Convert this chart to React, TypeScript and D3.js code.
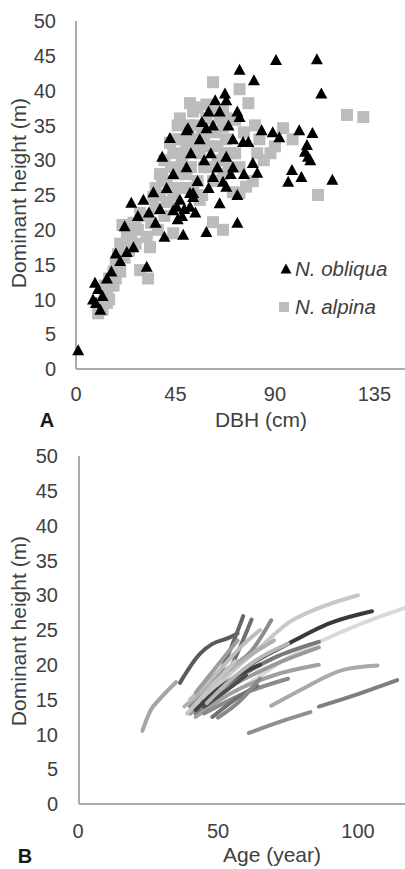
import React from "react";
import * as d3 from "d3";

// ---------- Panel A data ----------
const dbhTicks = [0, 45, 90, 135];
const heightTicks = [0, 5, 10, 15, 20, 25, 30, 35, 40, 45, 50];

const obliquaDbh = [
  1, 7.7, 8.6, 9, 10, 11, 12, 14, 16, 18, 20, 23, 26, 32,
  22, 25, 28, 30.5, 33, 35, 36, 38, 39, 40, 41, 42.5, 44, 44, 45.7, 46, 47, 48, 48.5, 49,
  50, 50, 50.7, 51.6, 51.6, 52, 53, 53, 54, 55, 56, 57, 58, 59, 59, 60, 60, 61, 62, 62,
  63, 64, 65, 65, 66.5, 67.4, 68, 68, 68, 69, 70, 71, 71, 73, 73, 73, 74, 74, 75.6, 76,
  78, 80, 80.5, 82, 84, 89, 90.5, 92, 96, 97.7, 101, 102, 103.6, 104.5, 105, 106, 107,
  109, 111, 116,
];
const obliquaH = [
  2.7, 10, 12.4, 9.5, 11.5, 8.5, 10.5, 13, 14, 16.6, 15.5, 16.8, 17.5, 14.7,
  20.5, 23.9, 22, 24.3, 22.5, 25.4, 21, 23, 30.5, 19, 26, 33.2, 28, 22.8, 23.3, 21.5, 24.3, 22, 19.3, 23,
  29, 34.3, 34.6, 23.3, 25.3, 31, 24.7, 25.3, 22.5, 27, 33, 35.5, 30, 34.6, 19.7, 26, 37, 31, 27.6, 35,
  38.6, 29, 23.8, 37, 26.9, 39.6, 30.5, 26.2, 38.6, 35, 28, 29, 33, 21, 37, 25, 43, 36.2, 32.6, 28,
  32.6, 29.6, 41.5, 28.2, 34.3, 34, 44.4, 33.3, 26.9, 28.6, 34.3, 27.6, 31.2, 32.2, 30.5, 30, 33.9,
  44.5, 39.6, 27.2,
];

const alpinaDbh = [
  10, 11, 12, 13, 13, 14, 15, 15, 16, 17, 18, 18, 19, 20, 20, 21, 22, 23, 24, 24, 25, 26,
  27, 28, 29, 29, 32.6, 32, 33.5, 34, 35, 36, 37, 38, 39, 40, 41, 42, 42.5, 43, 44, 44, 45,
  46, 47, 47, 48, 49, 50, 50, 51, 51.6, 51.6, 52, 53, 54, 55, 55, 56, 56, 57, 58, 59, 60,
  62, 62, 62, 63, 64, 65, 66.5, 66.5, 66.5, 66.5, 67, 68, 70, 71, 72, 74, 74, 74, 76, 77,
  78, 80, 81, 82, 83, 85, 88, 90, 93.7, 98, 109.5, 122.6, 130,
  38, 40, 41, 43, 45, 46, 47, 49, 52, 54, 55, 58, 59, 61, 63, 64, 68, 69, 72, 44, 53, 57,
  36, 31, 27, 14, 17, 22,
];
const alpinaH = [
  8, 9.5, 8.5, 10, 12, 11, 13, 10, 12, 14, 13, 15, 16.5, 14, 18, 20.7, 17.5, 19, 17, 20.5, 19, 21,
  18, 20, 22.4, 14.2, 13, 19, 17.5, 21, 24.7, 23, 20, 25, 27.6, 22, 27, 24, 32.5, 29, 31, 19.5, 26,
  28, 33, 36, 30, 26, 28, 32, 35, 31.5, 38.2, 29, 37, 33, 37.6, 27, 24.3, 31, 34, 29, 36, 32,
  21.1, 41.2, 27, 34, 30, 36, 34.8, 37.2, 28, 20, 31, 33, 31, 25.4, 35.8, 25.3, 40.2, 29, 34, 26.2,
  38.2, 27, 35, 31, 33, 30, 31, 32, 34.6, 33, 25, 36.5, 36.2,
  28, 30, 24, 26, 33, 35, 29, 31, 33, 35, 32, 33, 38, 29, 37, 32, 36, 29, 31, 25, 26, 25,
  26, 22, 21, 9.5, 12, 16,
];

// ---------- Panel B data ----------
const ageTicks = [0, 50, 100];

const curveColors = [
  "#a6a6a6", "#5a5a5a", "#666666", "#6e6e6e", "#8c8c8c", "#c8c8c8", "#3a3a3a", "#d9d9d9",
  "#a9a9a9", "#7f7f7f", "#8f8f8f", "#787878", "#9a9a9a", "#a0a0a0", "#8a8a8a", "#b0b0b0",
  "#bdbdbd", "#9d9d9d", "#404040", "#4d4d4d", "#707070", "#b5b5b5", "#888888", "#c4c4c4",
];
const curveAges: number[][] = [
  [23, 26, 29, 35],
  [36.4, 43.6, 48, 54, 57],
  [44, 52, 59],
  [46, 55, 62],
  [40, 52, 62, 69],
  [45, 55, 65, 75, 85, 100],
  [50, 60, 75, 90, 105],
  [60, 75, 90, 105, 117],
  [69, 80, 95, 107],
  [86, 100, 114],
  [61, 72, 83],
  [42, 55, 70, 86],
  [40, 55, 70, 86],
  [42, 55, 70, 86],
  [45, 60, 75],
  [38, 50, 60, 70],
  [40, 50, 58, 65],
  [42, 50, 57],
  [42, 50, 58, 65],
  [45, 52, 60],
  [48, 56, 64],
  [46, 55, 65, 75],
  [50, 57, 65],
  [39, 48, 56],
];
const curveHeights: number[][] = [
  [10.5, 13.5, 15, 17.5],
  [17.4, 21.6, 23, 23.9, 24.5],
  [15, 20, 27],
  [14, 20, 26.5],
  [14, 19, 22, 26.4],
  [15, 19, 22.5, 26, 28, 30],
  [15.5, 19.5, 23, 26, 27.7],
  [17, 21, 24, 26.5, 28.2],
  [14.1, 16.5, 19.3, 19.9],
  [14, 15.8, 17.8],
  [10.2, 11.8, 13.2],
  [13, 17.5, 21, 23.3],
  [13, 17, 20, 22.5],
  [12.5, 16, 18.5, 20],
  [13, 16, 18],
  [14, 18, 21, 23.5],
  [15, 19, 22.5, 25],
  [16, 20, 23.5],
  [13.5, 16.5, 18.7, 20],
  [14, 16, 18.5],
  [12.5, 15, 17],
  [14.5, 18, 21, 23],
  [12.4, 14.5, 18],
  [13, 17, 20.5],
];

const FONT = "'Liberation Sans', Arial, sans-serif";
const TXT = "#404040";
const AX = "#ababab";

export default function App() {
  const xA = d3.scaleLinear().domain([0, 150]).range([76, 76 + 150 * 2.21]);
  const yA = d3.scaleLinear().domain([0, 50]).range([369, 21]);
  const xB = d3.scaleLinear().domain([0, 120]).range([78, 78 + 120 * 2.8]);
  const yB = d3.scaleLinear().domain([0, 50]).range([804, 456]);

  const tri = "M0,-6 L6,5 L-6,5 Z";
  const triSmall = "M0,-5.5 L5.5,4.5 L-5.5,4.5 Z";

  const line = d3
    .line<[number, number]>()
    .x((d) => xB(d[0]))
    .y((d) => yB(d[1]))
    .curve(d3.curveMonotoneX);

  return (
    <div style={{ position: "absolute", left: 0, top: 0 }}>
      <svg width={405} height={869} style={{ display: "block", background: "#fff" }}>
        {/* ===== Panel A ===== */}
        <g fontFamily={FONT}>
          <line x1={76} x2={76} y1={yA(50)} y2={yA(0)} stroke={AX} strokeWidth={2} />
          <line x1={76} x2={405} y1={yA(0)} y2={yA(0)} stroke={AX} strokeWidth={2} />
          {heightTicks.map((t) => (
            <text key={t} x={56} y={yA(t)} dy="0.36em" textAnchor="end" fontSize={20} fill={TXT}>
              {t}
            </text>
          ))}
          {dbhTicks.map((t) => (
            <text key={t} x={xA(t)} y={401} textAnchor="middle" fontSize={20} fill={TXT}>
              {t}
            </text>
          ))}
          <text x={261} y={427} textAnchor="middle" fontSize={21} fill={TXT}>
            DBH (cm)
          </text>
          <text
            transform={`translate(26,${193}) rotate(-90)`}
            textAnchor="middle"
            fontSize={21}
            fill={TXT}
          >
            Dominant height (m)
          </text>
          <text x={47} y={427} textAnchor="middle" fontSize={20} fontWeight="bold" fill="#1a1a1a">
            A
          </text>

          {alpinaDbh.map((d, i) => (
            <rect
              key={"a" + i}
              x={xA(d) - 6}
              y={yA(alpinaH[i]) - 6}
              width={12}
              height={12}
              fill="#bcbcbc"
            />
          ))}
          {obliquaDbh.map((d, i) => (
            <path key={"o" + i} d={tri} transform={`translate(${xA(d)},${yA(obliquaH[i])})`} fill="#000" />
          ))}

          <path d={triSmall} transform="translate(286,269)" fill="#000" />
          <text x={295} y={276} fontSize={20.5} fontStyle="italic" fill={TXT}>
            N. obliqua
          </text>
          <rect x={279} y={302} width={10} height={10} fill="#bcbcbc" />
          <text x={295} y={314} fontSize={20.5} fontStyle="italic" fill={TXT}>
            N. alpina
          </text>
        </g>

        {/* ===== Panel B ===== */}
        <g fontFamily={FONT}>
          <line x1={79} x2={79} y1={yB(50)} y2={yB(0)} stroke={AX} strokeWidth={2} />
          <line x1={79} x2={405} y1={yB(0)} y2={yB(0)} stroke={AX} strokeWidth={2} />
          {heightTicks.map((t) => (
            <text key={t} x={58} y={yB(t)} dy="0.36em" textAnchor="end" fontSize={20} fill={TXT}>
              {t}
            </text>
          ))}
          {ageTicks.map((t) => (
            <text key={t} x={xB(t)} y={838} textAnchor="middle" fontSize={20} fill={TXT}>
              {t}
            </text>
          ))}
          <text x={272} y={862} textAnchor="middle" fontSize={21} fill={TXT}>
            Age (year)
          </text>
          <text
            transform={`translate(26,${631}) rotate(-90)`}
            textAnchor="middle"
            fontSize={21}
            fill={TXT}
          >
            Dominant height (m)
          </text>
          <text x={25} y={863} textAnchor="middle" fontSize={20} fontWeight="bold" fill="#1a1a1a">
            B
          </text>

          {curveAges.map((ages, i) => {
            const pts = ages.map((a, j) => [a, curveHeights[i][j]] as [number, number]);
            return (
              <path
                key={"c" + i}
                d={line(pts) || ""}
                fill="none"
                stroke={curveColors[i]}
                strokeWidth={4}
                strokeLinecap="round"
                strokeLinejoin="round"
              />
            );
          })}
        </g>
      </svg>
    </div>
  );
}
